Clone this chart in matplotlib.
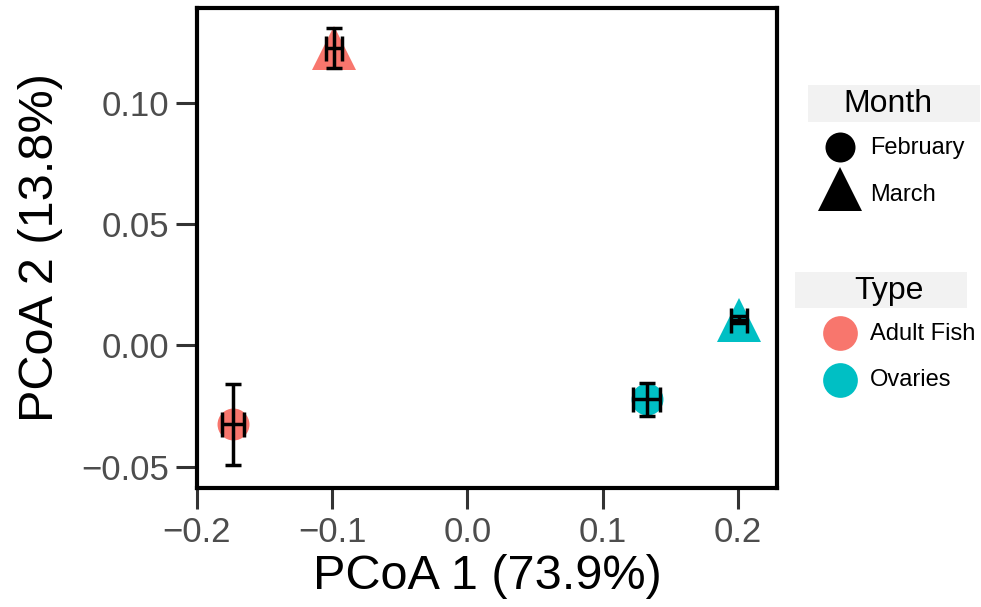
import matplotlib
matplotlib.use("Agg")
import matplotlib.pyplot as plt

plt.rcParams['font.family'] = ['Liberation Sans', 'DejaVu Sans']

types = ["Adult Fish", "Adult Fish", "Ovaries", "Ovaries"]
months = ["February", "March", "February", "March"]
pc1 = [-0.1733, -0.0985, 0.1326, 0.2007]
pc2 = [-0.0325, 0.1226, -0.0222, 0.0107]
pc1_err = [0.0082, 0.006, 0.010, 0.006]
pc2_err = [0.0167, 0.0083, 0.0068, 0.0015]

type_colors = {"Adult Fish": "#F8766D", "Ovaries": "#00BFC4"}
month_markers = {"February": "o", "March": "^"}
month_sizes = {"February": 23, "March": 31.5}

xticks = [-0.2, -0.1, 0.0, 0.1, 0.2]
yticks = [-0.05, 0.00, 0.05, 0.10]

fig = plt.figure(figsize=(9.81, 6.07), dpi=100)
ax = fig.add_axes([197/981, 1-488/607, (777-197)/981, (488-8)/607])

for x, y, t, m in zip(pc1, pc2, types, months):
    ax.plot([x], [y], marker=month_markers[m], color=type_colors[t],
            markersize=month_sizes[m], linestyle='none', markeredgewidth=0, zorder=2)
for x, y, xe, ye in zip(pc1, pc2, pc1_err, pc2_err):
    ax.errorbar([x], [y], yerr=[ye], fmt='none', ecolor='black',
                elinewidth=2.5, capsize=5.5, capthick=2.5, zorder=3)
    ax.errorbar([x], [y], xerr=[xe], fmt='none', ecolor='black',
                elinewidth=2.5, capsize=9, capthick=2.5, zorder=3)

ax.set_xlim(-0.2, 0.2289)
ax.set_ylim(-0.0587, 0.139)
ax.set_xticks(xticks)
ax.set_xticklabels([f"{v:.1f}".replace("-", "\u2212") for v in xticks])
ax.set_yticks(yticks)
ax.set_yticklabels([f"{v:.2f}".replace("-", "\u2212") for v in yticks])
ax.tick_params(axis='both', direction='out', length=15, width=2.2, color='#333333',
               labelcolor='#4D4D4D', labelsize=25, pad=5)
for s in ax.spines.values():
    s.set_linewidth(3)
    s.set_color('black')
ax.set_xlabel("PCoA 1 (73.9%)", fontsize=35, labelpad=4)
ax.set_ylabel("PCoA 2 (13.8%)", fontsize=35, labelpad=13)

# Legends drawn manually
lax = fig.add_axes([0, 0, 1, 1], facecolor='none')
lax.set_xlim(0, 981)
lax.set_ylim(607, 0)
lax.axis('off')

def title_box(x0, x1, y0, y1, tx, text):
    lax.add_patch(plt.Rectangle((x0, y0), x1 - x0, y1 - y0, color='#F2F2F2', lw=0))
    lax.text(tx, (y0 + y1) / 2 + 1, text, ha='center', va='center', fontsize=23)

title_box(808, 980, 85, 122, 888, "Month")
month_labels = ["February", "March"]
legend_month_sizes = {"February": 21.6, "March": 31}
month_marker_y = [147, 189]
month_text_y = [148, 195]
for m, yy, ty in zip(month_labels, month_marker_y, month_text_y):
    lax.plot([840], [yy], marker=month_markers[m], color='black',
             markersize=legend_month_sizes[m], markeredgewidth=0, linestyle='none')
    lax.text(870, ty, m, ha='left', va='center', fontsize=17)

title_box(795, 967, 272, 308, 889, "Type")
type_labels = ["Adult Fish", "Ovaries"]
for i, t in enumerate(type_labels):
    yy = 333 + 46.5 * i
    lax.plot([840], [yy], marker='o', color=type_colors[t], markersize=25,
             markeredgewidth=0, linestyle='none')
    lax.text(870, yy + 1, t, ha='left', va='center', fontsize=17)

fig.savefig("out.png", dpi=100)
